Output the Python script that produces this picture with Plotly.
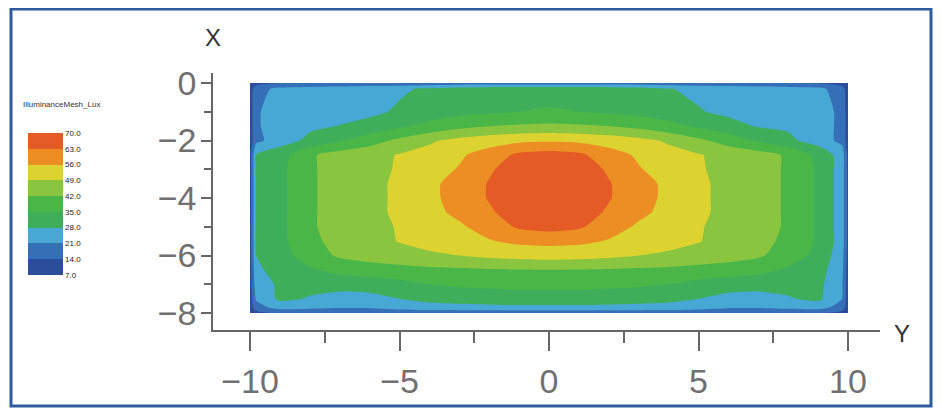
import plotly.graph_objects as go

# ---- data ----
# Y positions (horizontal axis) of the grid columns
y_pos = [-10, -9.8, -9, -8, -7, -6, -5, -4, -3, -2, -1, 0, 1, 2, 3, 4, 5, 6, 7, 8, 9, 9.8, 10]
# X positions (vertical axis) of the grid rows
x_pos = [0, -0.2, -1, -1.5, -2, -2.5, -3, -3.5, -4, -4.5, -5, -5.5, -6, -6.5, -7, -7.5, -7.8, -8]

# illuminance (lux) estimated on that grid
lux = [
    [8, 11, 14, 15, 15.5, 16, 16, 16.5, 17, 17, 17, 17, 17, 17, 17, 16.5, 16, 16, 15.5, 15, 14, 11, 8],
    [10, 18, 23, 24, 24.5, 25.5, 27, 29, 31, 32.5, 33, 33, 33, 32.5, 31, 28.3, 26.5, 25.5, 24.5, 24, 23, 17, 10],
    [10, 20, 25, 25.5, 26, 26.5, 29, 31.5, 33, 34, 35, 35.5, 35, 34, 33, 31.5, 28.5, 26.5, 26, 25.5, 25, 19, 10],
    [10, 20, 25, 27, 28.2, 30.5, 34, 37, 40, 42, 43, 43.5, 43, 42, 40, 37, 34, 30.5, 27.5, 27, 25, 19, 10],
    [10, 19, 25, 29.5, 34, 39, 43.5, 48, 51, 53, 54.5, 55, 54.5, 53, 51, 48, 43.5, 39, 34, 29.5, 25, 19, 10],
    [11, 28.5, 32, 41, 45, 46.5, 49.5, 51.5, 55, 59, 64.5, 66, 64.5, 59, 55, 51.5, 49.5, 46.5, 45, 41, 33, 25, 12],
    [11, 28.5, 33, 41, 45, 47.5, 49.5, 53, 56.5, 62, 67, 69, 67, 62, 56.5, 53, 49.5, 47.5, 45, 41, 34, 25, 12],
    [11, 28.5, 33, 41, 45, 47.5, 50, 54.5, 58.5, 63.5, 68, 70, 68, 63.5, 58.5, 54.5, 50, 47.5, 45, 41, 34, 25, 12],
    [11, 28.5, 33, 41, 45, 47.5, 50, 54.5, 58.5, 63.5, 68, 70, 68, 63.5, 58.5, 54.5, 50, 47.5, 45, 41, 34, 25, 12],
    [11, 28.5, 33, 41, 45, 47.5, 50, 54, 57.5, 62, 66.5, 68, 66.5, 62, 57.5, 54, 50, 47.5, 45, 41, 34, 25, 12],
    [11, 28.5, 33, 41, 45, 47, 49.5, 52, 55, 59, 64, 65.5, 64, 59, 55, 52, 49.5, 47, 45, 41, 34, 25, 12],
    [11, 28.5, 33, 40.5, 44, 46.5, 49.3, 51, 53.5, 55.5, 57.5, 58, 57.5, 55.5, 53.5, 51, 49.3, 46.5, 44, 40.5, 34, 25, 12],
    [11, 28, 32, 38.5, 43, 45, 46.5, 48, 49, 50.5, 51.5, 52, 51.5, 50.5, 49, 48, 46.5, 45, 43, 38.5, 33, 24, 11],
    [10, 27, 30, 34, 37, 38.5, 39.5, 40.5, 41, 41.5, 41.8, 41.8, 41.8, 41.5, 41, 40.5, 39.5, 38.5, 37, 34, 31, 23, 10],
    [10, 25, 29, 30, 31, 31.5, 33, 35, 36, 36.5, 37, 37, 37, 36.5, 36, 35, 33, 31.5, 31, 30, 30, 22, 10],
    [10, 22, 29.5, 27.5, 25, 25.5, 28, 30, 31, 31.5, 32, 32, 32, 31.5, 31, 30, 28, 25.5, 25, 27.5, 29.5, 21, 10],
    [10, 18, 24, 23, 22, 22, 24, 25.5, 26, 26.5, 26.5, 26.5, 26.5, 26.5, 26, 25.5, 24, 22, 22, 23, 24, 18, 10],
    [8, 12, 15, 15, 15, 15.5, 16, 16, 16, 16, 16, 16, 16, 16, 16, 16, 16, 15.5, 15, 15, 15, 12, 8],
]

levels = [7, 14, 21, 28, 35, 42, 49, 56, 63, 70]
band_colors = ["#2c4d9b", "#2c4d9b", "#3a80c5", "#4cb3da", "#3dad4a", "#4bb648",
               "#80c241", "#d6df35", "#f0a823", "#e55b26", "#e55b26"]
x_ticks = [-10, -5, 0, 5, 10]
x_minor = [-7.5, -2.5, 2.5, 7.5]
y_ticks = [0, -2, -4, -6, -8]
y_minor = [-1, -3, -5, -7]

# ---- layout geometry (page pixels; the page body adds an 8px offset) ----
W, H = 941, 412
OFF = 8
PL, PR, PT, PB = 213, 880, 73, 330          # plot box in page pixels
L, T = PL - OFF, PT - OFF
R, B = W - (PR - OFF), H - (PB - OFF)
PW, PH = PR - PL, PB - PT


def px(xp):
    return (xp - PL) / PW


def py(yp):
    return (PB - yp) / PH


colorscale = [[i / 10, c] for i, c in enumerate(band_colors)]

fig = go.Figure()
fig.add_trace(go.Contour(
    x=y_pos, y=x_pos, z=lux,
    autocontour=False,
    contours=dict(start=levels[0], end=levels[-1], size=levels[1] - levels[0], coloring="fill"),
    line=dict(width=0, smoothing=0.6),
    colorscale=colorscale,
    zmin=levels[0], zmax=levels[-1],
    hoverinfo="skip",
    colorbar=dict(
        x=px(28), xanchor="left",
        y=py(204), yanchor="middle",
        thickness=35, thicknessmode="pixels",
        len=142, lenmode="pixels",
        outlinewidth=0,
        tickvals=levels,
        tickformat=".1f",
        ticks="",
        tickfont=dict(size=8, color="#222222", family="Liberation Sans"),
        xpad=0, ypad=0,
    ),
))

axis_col = "#666666"
tick_font = dict(size=34, color="#707070", family="Liberation Sans")
fig.update_xaxes(
    range=[-11.24, 11.07],
    tickvals=x_ticks,
    ticks="outside", ticklen=19, tickwidth=1.5, tickcolor=axis_col,
    minor=dict(tickvals=x_minor, ticks="outside", ticklen=11, tickwidth=1.5, tickcolor=axis_col),
    showline=True, linecolor=axis_col, linewidth=1.5,
    showgrid=False, zeroline=False,
    tickfont=tick_font,
    ticklabelstandoff=1,
)
fig.update_yaxes(
    range=[-8.59, 0.35],
    tickvals=y_ticks,
    ticks="outside", ticklen=10, tickwidth=1.5, tickcolor=axis_col,
    minor=dict(tickvals=y_minor, ticks="outside", ticklen=7, tickwidth=1.5, tickcolor=axis_col),
    showline=True, linecolor=axis_col, linewidth=1.5,
    showgrid=False, zeroline=False,
    tickfont=tick_font,
    ticklabelstandoff=-2,
)

fig.update_layout(
    width=W, height=H,
    margin=dict(l=L, r=R, t=T, b=B, pad=0),
    paper_bgcolor="white", plot_bgcolor="white",
    showlegend=False,
    annotations=[
        dict(text="X", x=px(213), y=py(37), xref="paper", yref="paper",
             showarrow=False, font=dict(size=24, color="#333333", family="Liberation Sans"),
             xanchor="center", yanchor="middle"),
        dict(text="Y", x=px(902), y=py(333), xref="paper", yref="paper",
             showarrow=False, font=dict(size=24, color="#333333", family="Liberation Sans"),
             xanchor="center", yanchor="middle"),
        dict(text="IlluminanceMesh_Lux", x=px(21), y=py(104), xref="paper", yref="paper",
             showarrow=False, font=dict(size=8, color="#333333", family="Liberation Sans"),
             xanchor="left", yanchor="middle"),
    ],
    shapes=[
        dict(type="rect", xref="paper", yref="paper",
             x0=px(11), x1=px(931), y0=py(406), y1=py(9),
             line=dict(color="#2f5b9f", width=3), fillcolor="rgba(0,0,0,0)"),
    ],
)

fig.write_html("out.html")
